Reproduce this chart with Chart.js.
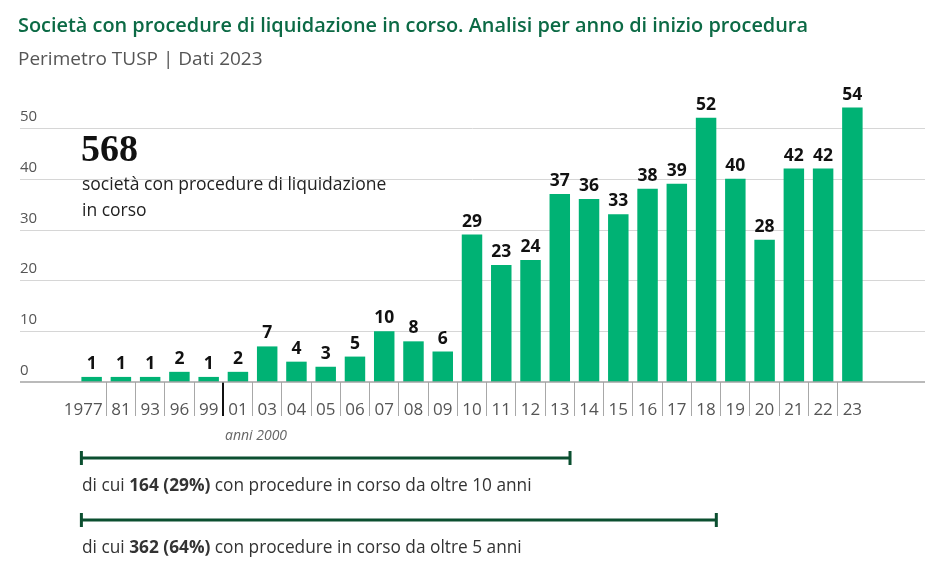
<!DOCTYPE html>
<html lang="it">
  <head>
    <meta charset="UTF-8" />
    <title>Società in liquidazione</title>
    <script src="https://cdn.jsdelivr.net/npm/chart.js"></script>
    <style>
      body { margin: 0; background: #fff; }
      .box { position: relative; width: 933px; height: 570px; }
    </style>
  </head>
  <body>
    <div class="box">
      <canvas id="grafico"></canvas>
    </div>
  </body>
</html>

<script>
  // anni di inizio procedura
  const anni = ["1977", "81", "93", "96", "99", "01", "03", "04", "05", "06", "07", "08", "09",
    "10", "11", "12", "13", "14", "15", "16", "17", "18", "19", "20", "21", "22", "23"];
  // numero di società per anno
  const societa = [1, 1, 1, 2, 1, 2, 7, 4, 3, 5, 10, 8, 6,
    29, 23, 24, 37, 36, 33, 38, 39, 52, 40, 28, 42, 42, 54];
  const tickY = [0, 10, 20, 30, 40, 50];

  // parentesi in basso: ultimo anno incluso, totale, quota, anni
  const fineParentesi = ["13", "18"];
  const totaleParentesi = [164, 362];
  const quotaParentesi = ["29%", "64%"];
  const anniParentesi = [10, 5];

  const font = "'Open Sans', sans-serif";
  const verde = "#00b274";
  const verdeScuro = "#0b4f30";

  const extra = {
    id: "extra",
    beforeDatasetsDraw(chart) {
      const ctx = chart.ctx;
      const y = chart.scales.y;
      ctx.save();
      tickY.forEach(function (v) {
        const py = y.getPixelForValue(v);
        if (v !== 0) {
          ctx.strokeStyle = "#d6d6d6";
          ctx.lineWidth = 1;
          ctx.beginPath();
          ctx.moveTo(20, Math.round(py) + 0.5);
          ctx.lineTo(925, Math.round(py) + 0.5);
          ctx.stroke();
        }
        ctx.fillStyle = "#555";
        ctx.font = "15px " + font;
        ctx.textAlign = "left";
        ctx.textBaseline = "alphabetic";
        ctx.fillText(String(v), 20, py - 7);
      });
      ctx.restore();
    },
    afterDraw(chart) {
      const ctx = chart.ctx;
      const x = chart.scales.x;
      const y = chart.scales.y;
      const meta = chart.getDatasetMeta(0);
      ctx.save();

      // linea dello zero
      const p0 = y.getPixelForValue(0);
      ctx.strokeStyle = "#a3a3a3";
      ctx.lineWidth = 1.5;
      ctx.beginPath();
      ctx.moveTo(20, p0);
      ctx.lineTo(925, p0);
      ctx.stroke();

      // etichette asse x (1977 allineato a destra)
      ctx.fillStyle = "#555";
      ctx.font = "17px " + font;
      ctx.textBaseline = "alphabetic";
      anni.forEach(function (a, i) {
        const px = x.getPixelForTick(i);
        if (i === 0) {
          ctx.textAlign = "right";
          ctx.fillText(a, px + 11, p0 + 33);
        } else {
          ctx.textAlign = "center";
          ctx.fillText(a, px, p0 + 33);
        }
      });

      // valori sopra le barre
      ctx.fillStyle = "#111";
      ctx.font = "bold 17.5px " + font;
      ctx.textAlign = "center";
      meta.data.forEach(function (bar, i) {
        ctx.fillText(String(societa[i]), bar.x, bar.y - 8);
      });

      // titolo e sottotitolo
      ctx.textAlign = "left";
      ctx.fillStyle = "#0c6a45";
      ctx.font = "600 20px " + font;
      ctx.fillText("Società con procedure di liquidazione in corso. Analisi per anno di inizio procedura", 18, 32, 790);
      ctx.fillStyle = "#555";
      ctx.font = "19px " + font;
      ctx.fillText("Perimetro TUSP | Dati 2023", 18, 65, 249);

      // totale
      const totale = societa.reduce(function (a, b) { return a + b; }, 0);
      ctx.fillStyle = "#111";
      ctx.font = "bold 38px 'Liberation Serif', serif";
      ctx.fillText(String(totale), 81, 161);
      ctx.fillStyle = "#222";
      ctx.font = "500 17.5px " + font;
      ctx.fillText("società con procedure di liquidazione", 82, 190, 307);
      ctx.fillText("in corso", 82, 216);

      // anni 2000
      ctx.fillStyle = "#666";
      ctx.font = "italic 14px " + font;
      ctx.fillText("anni 2000", 225, 440);

      // parentesi
      const x0 = meta.data[0].x - meta.data[0].width / 2;
      const righe = [458, 520];
      fineParentesi.forEach(function (anno, k) {
        const b = meta.data[anni.indexOf(anno)];
        const x1 = b.x + b.width / 2;
        const py = righe[k];
        ctx.strokeStyle = verdeScuro;
        ctx.lineWidth = 3;
        ctx.beginPath();
        ctx.moveTo(x0, py);
        ctx.lineTo(x1, py);
        ctx.moveTo(x0, py - 7);
        ctx.lineTo(x0, py + 7);
        ctx.moveTo(x1, py - 7);
        ctx.lineTo(x1, py + 7);
        ctx.stroke();

        let tx = 82;
        const ty = py + 33;
        const pezzi = [
          ["di cui ", "17.3px "],
          [totaleParentesi[k] + " (" + quotaParentesi[k] + ")", "bold 17.3px "],
          [" con procedure in corso da oltre " + anniParentesi[k] + " anni", "17.3px "],
        ];
        ctx.fillStyle = "#333";
        pezzi.forEach(function (p) {
          ctx.font = p[1] + font;
          ctx.fillText(p[0], tx, ty);
          tx += ctx.measureText(p[0]).width;
        });
      });
      ctx.restore();
    },
  };

  const config = {
    type: "bar",
    data: {
      labels: anni,
      datasets: [
        {
          label: "Società",
          data: societa,
          backgroundColor: verde,
          barPercentage: 0.7,
          categoryPercentage: 1,
        },
      ],
    },
    options: {
      responsive: true,
      maintainAspectRatio: false,
      animation: false,
      layout: { padding: { left: 77, right: 66, top: 77, bottom: 148 } },
      plugins: {
        legend: { display: false },
        tooltip: { enabled: false },
      },
      scales: {
        y: {
          display: false,
          min: 0,
          max: 60,
        },
        x: {
          border: { display: false },
          grid: {
            offset: true,
            drawOnChartArea: false,
            tickLength: 34,
            color: function (c) {
              if (c.index === undefined || c.index === 0) return "rgba(0,0,0,0)";
              return c.index === 5 ? "#111" : "#a8a8a8";
            },
            lineWidth: function (c) {
              return c.index === 5 ? 2 : 1;
            },
          },
          ticks: { display: false },
          afterFit: function (scale) {
            scale.height = 40;
          },
        },
      },
    },
    plugins: [extra],
  };

  let myChart = new Chart(document.getElementById("grafico"), config);
</script>
